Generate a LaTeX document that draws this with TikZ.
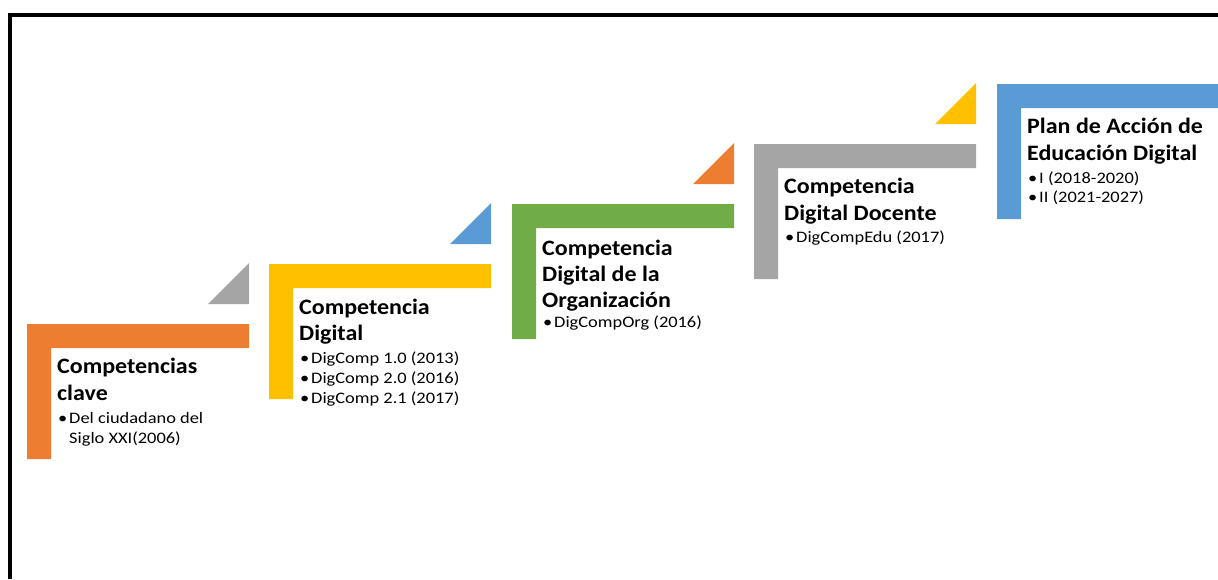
\documentclass[tikz,border=0pt]{standalone}
\usepackage{fontspec}
\setmainfont{Carlito}
\newfontfamily\titlefont[FakeStretch=1.09]{Carlito}
\newfontfamily\itemfont[FakeStretch=1.15]{Carlito}
\definecolor{cOrange}{HTML}{ED7D31}
\definecolor{cGray}{HTML}{A5A5A5}
\definecolor{cYellow}{HTML}{FFC000}
\definecolor{cBlue}{HTML}{5B9BD5}
\definecolor{cGreen}{HTML}{70AD47}
\tikzset{
  stepbar/.style={fill=#1, draw=none},
  corner/.style={fill=#1, draw=none},
  title/.style={anchor=base west, inner sep=0pt, font=\titlefont\fontsize{22}{27}\selectfont\bfseries},
  item/.style={anchor=base west, inner sep=0pt, font=\itemfont\fontsize{16}{20}\selectfont},
  frame/.style={draw=black, line width=3.8pt, line join=miter}
}
\newcommand\Lbar[1]{\fill[stepbar=#1] (0,0) -- (222,0) -- (222,24) -- (24,24) -- (24,135) -- (0,135) -- cycle;}
\newcommand\Ltri[1]{\fill[corner=#1] (181,-20) -- (222,-20) -- (222,-61) -- cycle;}
\begin{document}
\begin{tikzpicture}[x=1pt,y=-1pt]
\useasboundingbox (0,0) rectangle (1218,579);
\draw[frame] (9.8,579) -- (9.8,14.7) -- (1218,14.7);

% step 1
\begin{scope}[shift={(27,324)}]
\Lbar{cOrange}\Ltri{cGray}
\node[title] (t1a) at (30,49) {Competencias};
\node[title] (t1b) at (30,76) {clave};
\node[item] (b1a) at (31,99) {•};
\node[item] (i1a) at (42,99) {Del ciudadano del};
\node[item] (i1b) at (42,119) {Siglo XXI(2006)};
\end{scope}

% step 2
\begin{scope}[shift={(269,264)}]
\Lbar{cYellow}\Ltri{cBlue}
\node[title] (t2a) at (30,50) {Competencia};
\node[title] (t2b) at (30,76) {Digital};
\node[item] (b2a) at (31,99) {•};
\node[item] (i2a) at (42,99) {DigComp 1.0 (2013)};
\node[item] (b2b) at (31,119) {•};
\node[item] (i2b) at (42,119) {DigComp 2.0 (2016)};
\node[item] (b2c) at (31,139) {•};
\node[item] (i2c) at (42,139) {DigComp 2.1 (2017)};
\end{scope}

% step 3
\begin{scope}[shift={(512,204)}]
\Lbar{cGreen}\Ltri{cOrange}
\node[title] (t3a) at (30,51) {Competencia};
\node[title] (t3b) at (30,77) {Digital de la};
\node[title] (t3c) at (30,103) {Organización};
\node[item] (b3a) at (31,123) {•};
\node[item] (i3a) at (42,123) {DigCompOrg (2016)};
\end{scope}

% step 4
\begin{scope}[shift={(754,144)}]
\Lbar{cGray}\Ltri{cYellow}
\node[title] (t4a) at (30,49) {Competencia};
\node[title] (t4b) at (30,76) {Digital Docente};
\node[item] (b4a) at (31,98) {•};
\node[item] (i4a) at (42,98) {DigCompEdu (2017)};
\end{scope}

% step 5
\begin{scope}[shift={(997,84)}]
\Lbar{cBlue}
\node[title] (t5a) at (30,49) {Plan de Acción de};
\node[title] (t5b) at (30,76) {Educación Digital};
\node[item] (b5a) at (31,99) {•};
\node[item] (i5a) at (42,99) {I (2018-2020)};
\node[item] (b5b) at (31,118) {•};
\node[item] (i5b) at (42,118) {II (2021-2027)};
\end{scope}
\end{tikzpicture}
\end{document}
